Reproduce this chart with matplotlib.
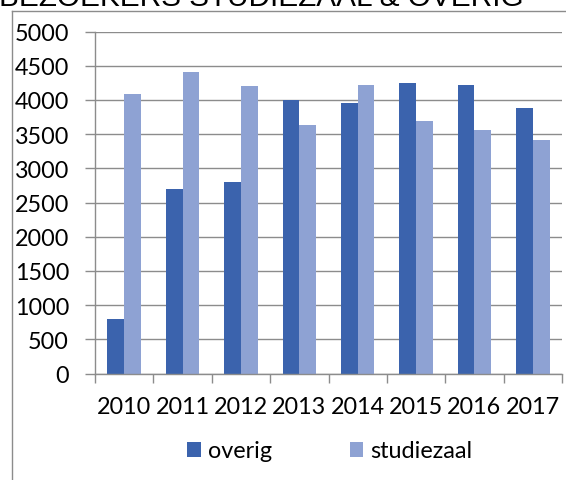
import matplotlib
matplotlib.use("Agg")
import matplotlib.pyplot as plt
from matplotlib.lines import Line2D
import numpy as np

years = ["2010", "2011", "2012", "2013", "2014", "2015", "2016", "2017"]
overig = [790, 2700, 2800, 4000, 3960, 4250, 4220, 3880]
studiezaal = [4090, 4410, 4200, 3640, 4220, 3690, 3560, 3410]
yticks = [0, 500, 1000, 1500, 2000, 2500, 3000, 3500, 4000, 4500, 5000]
title = "BEZOEKERS STUDIEZAAL & OVERIG"

W, H = 566, 481
fig = plt.figure(figsize=(W / 100, H / 100), dpi=100)

def fx(px):
    return px / W

def fy(py):
    return 1 - py / H

# chart border (top & left visible)
grey = "#8C8C8C"
fig.add_artist(Line2D([fx(12.3), 1.0], [fy(11.7), fy(11.7)], color=grey, lw=1.0, transform=fig.transFigure))
fig.add_artist(Line2D([fx(12.3), fx(12.3)], [fy(11.7), 0.0], color=grey, lw=1.0, transform=fig.transFigure))

# title (partly cut off at top)
fig.text(fx(-1), fy(6), title, ha="left", va="baseline", fontsize=21.4,
         family="Liberation Sans", color="black")

left, right, top, bottom = 95, 562, 32.5, 374.5
ax = fig.add_axes([fx(left), fy(bottom), fx(right - left), (bottom - top) / H])

x = np.arange(len(years))
bw = 0.286
dark = "#3B63AD"
light = "#8EA2D3"
b1 = ax.bar(x - bw / 2, overig, bw, color=dark, label="overig", zorder=3)
b2 = ax.bar(x + bw / 2, studiezaal, bw, color=light, label="studiezaal", zorder=3)

ax.set_xlim(-0.5, len(years) - 0.5)
ax.set_ylim(0, 5000)
ax.set_yticks(yticks)
ax.set_yticklabels([str(v) for v in yticks])
ax.set_xticks(np.arange(-0.5, len(years), 1.0), minor=False)
ax.set_xticklabels([])
ax.set_xticks(x, minor=True)
ax.set_xticklabels(years, minor=True)

font = "Lato"
for lab in ax.get_yticklabels():
    lab.set_fontfamily(font)
    lab.set_fontsize(16.8)
for lab in ax.get_xticklabels(minor=True):
    lab.set_fontfamily(font)
    lab.set_fontsize(16.8)

ax.grid(axis="y", color=grey, lw=1.0, zorder=0)
for s in ["top", "right"]:
    ax.spines[s].set_visible(False)
for s in ["left", "bottom"]:
    ax.spines[s].set_color(grey)
    ax.spines[s].set_linewidth(1.0)
    ax.spines[s].set_zorder(4)

ax.tick_params(axis="y", which="major", length=7.2, width=1.0, color=grey, pad=11.5, labelcolor="black")
ax.tick_params(axis="x", which="major", length=6.5, width=1.0, color=grey)
ax.tick_params(axis="x", which="minor", length=0, pad=16, labelcolor="black")

leg = fig.legend(handles=[b1, b2], labels=["overig", "studiezaal"], loc="center",
                 bbox_to_anchor=(fx(330), fy(452)), ncol=2, frameon=False,
                 prop={"family": font, "size": 16.8}, handlelength=0.57, handleheight=0.62,
                 handletextpad=0.33, columnspacing=3.3, borderpad=0, borderaxespad=0)

fig.savefig("out.png", dpi=100)
